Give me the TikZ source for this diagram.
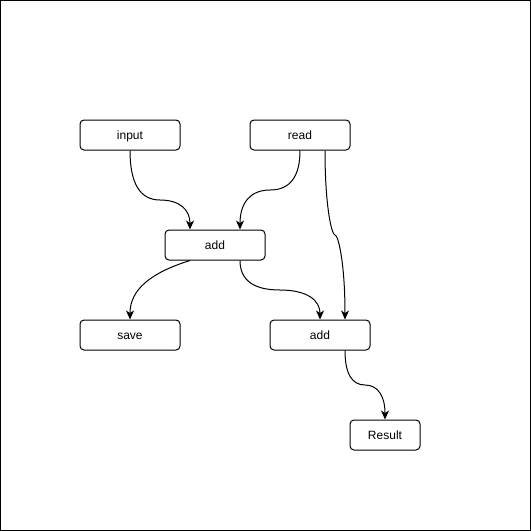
\documentclass[tikz,border=0pt]{standalone}
\usepackage{fontspec}
\setmainfont{Liberation Sans}
\usetikzlibrary{arrows.meta,calc}
\begin{document}
\begin{tikzpicture}[x=1pt,y=-1pt,
  box/.style={draw=black, line width=1pt, rounded corners=4pt, fill=white,
    minimum height=30pt, inner sep=0pt, text height=9.5pt, text depth=0.5pt,
    font=\fontsize{12}{14}\selectfont},
  link/.style={draw=black, line width=1pt, -{Stealth[length=9pt,width=8pt,inset=2.5pt]}}]
\useasboundingbox (0,0) rectangle (531,531);
\draw[line width=1pt] (0.5,0.5) rectangle (530,530);
\node[box, minimum width=100pt] (input) at (130,135) {input};
\node[box, minimum width=100pt] (read) at (300,135) {read};
\node[box, minimum width=100pt] (add1) at (215,245) {add};
\node[box, minimum width=100pt] (save) at (130,335) {save};
\node[box, minimum width=100pt] (add2) at (320,335) {add};
\node[box, minimum width=70pt] (result) at (385,435) {Result};
% input -> add1
\draw[link] (input.south) .. controls (130,183.3) and (140,200) .. (160,200)
  .. controls (180,200) and (190,210) .. ($(add1.north)+(-25,0)$);
% read -> add1
\draw[link] (read.south) .. controls (300,176.7) and (290,190) .. (270,190)
  .. controls (250,190) and (240,203.3) .. ($(add1.north)+(25,0)$);
% read -> add2
\draw[link] ($(read.south)+(25,0)$) .. controls (325,206.7) and (331.7,235) .. (335,235)
  .. controls (338.3,235) and (345,263.3) .. ($(add2.north)+(25,0)$);
% add1 -> save
\draw[link] ($(add1.south)+(-25,0)$) .. controls (150,273) and (130,290) .. (save.north);
% add1 -> add2
\draw[link] ($(add1.south)+(25,0)$) .. controls (240,280) and (253.3,290) .. (280,290)
  .. controls (306.7,290) and (320,300) .. (add2.north);
% add2 -> result
\draw[link] ($(add2.south)+(25,0)$) .. controls (345,373.3) and (351.7,385) .. (365,385)
  .. controls (378.3,385) and (385,396.7) .. (result.north);
\end{tikzpicture}
\end{document}
